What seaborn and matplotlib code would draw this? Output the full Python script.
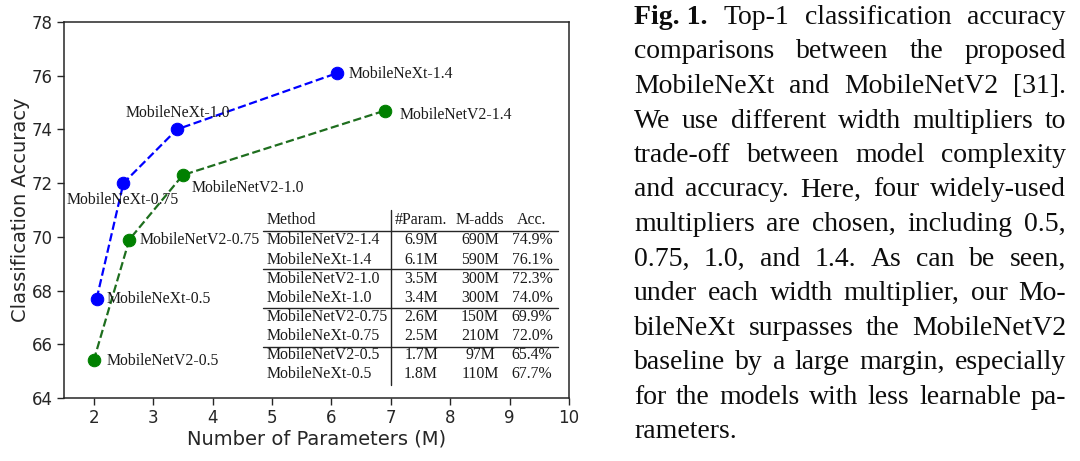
import matplotlib
matplotlib.use("Agg")
import matplotlib.pyplot as plt
import seaborn as sns
import pandas as pd
from matplotlib.lines import Line2D

# ---------------- data ----------------
next_params = [2.05, 2.5, 3.4, 6.1]
next_acc = [67.7, 72.0, 74.0, 76.1]
next_labels = ["MobileNeXt-0.5", "MobileNeXt-0.75", "MobileNeXt-1.0", "MobileNeXt-1.4"]

v2_params = [2.0, 2.6, 3.5, 6.9]
v2_acc = [65.4, 69.9, 72.3, 74.7]
v2_labels = ["MobileNetV2-0.5", "MobileNetV2-0.75", "MobileNetV2-1.0", "MobileNetV2-1.4"]

x_ticks = [2, 3, 4, 5, 6, 7, 8, 9, 10]
y_ticks = [64, 66, 68, 70, 72, 74, 76, 78]

table_header = ["Method", "#Param.", "M-adds", "Acc."]
table_methods = ["MobileNetV2-1.4", "MobileNeXt-1.4", "MobileNetV2-1.0", "MobileNeXt-1.0",
                 "MobileNetV2-0.75", "MobileNeXt-0.75", "MobileNetV2-0.5", "MobileNeXt-0.5"]
table_params = ["6.9M", "6.1M", "3.5M", "3.4M", "2.6M", "2.5M", "1.7M", "1.8M"]
table_madds = ["690M", "590M", "300M", "300M", "150M", "210M", "97M", "110M"]
table_acc = ["74.9%", "76.1%", "72.3%", "74.0%", "69.9%", "72.0%", "65.4%", "67.7%"]

caption_bold = "Fig. 1."
caption_lines = [
    "Top-1 classification accuracy",
    "comparisons between the proposed",
    "MobileNeXt and MobileNetV2 [31].",
    "We use different width multipliers to",
    "trade-off between model complexity",
    "and accuracy. Here, four widely-used",
    "multipliers are chosen, including 0.5,",
    "0.75, 1.0, and 1.4. As can be seen,",
    "under each width multiplier, our Mo-",
    "bileNeXt surpasses the MobileNetV2",
    "baseline by a large margin, especially",
    "for the models with less learnable pa-",
    "rameters.",
]

# ---------------- style ----------------
sns.set_style("ticks")
plt.rcParams["font.family"] = ["DejaVu Sans"]
SERIF = ["Liberation Serif", "DejaVu Serif"]

W, H = 1080, 461
fig = plt.figure(figsize=(W / 100, H / 100), dpi=100)
ax = fig.add_axes([64 / W, 1 - 398 / H, (569 - 64) / W, (398 - 22) / H])

df_next = pd.DataFrame({"params": next_params, "acc": next_acc})
df_v2 = pd.DataFrame({"params": v2_params, "acc": v2_acc})

sns.lineplot(data=df_next, x="params", y="acc", ax=ax, color="blue", linestyle="--",
             linewidth=1.6, marker="o", markersize=9, markeredgecolor="blue", sort=False)
sns.lineplot(data=df_v2, x="params", y="acc", ax=ax, color="#1e6e1e", linestyle="--",
             linewidth=1.6, marker="o", markersize=9, markeredgecolor="green",
             markerfacecolor="green", sort=False)

ax.set_xlim(1.5, 10)
ax.set_ylim(64, 78)
ax.set_xticks(x_ticks)
ax.set_yticks(y_ticks)
ax.tick_params(labelsize=12, length=5, width=1, colors="0.15", pad=3)
ax.set_xlabel("Number of Parameters (M)", fontsize=14, labelpad=2)
ax.set_ylabel("Classification Accuracy", fontsize=14, labelpad=1)
for s in ax.spines.values():
    s.set_linewidth(1.1)
    s.set_color("0.15")

# point labels (offsets in pixels)
next_offsets = [(10, 0, "left"), (-1, -17, "center"), (1, 16, "center"), (11, -1, "left")]
v2_offsets = [(13, -1, "left"), (10, 0, "left"), (9, -13, "left"), (15, -4, "left")]
for xs, ys, labs, offs in [(next_params, next_acc, next_labels, next_offsets),
                           (v2_params, v2_acc, v2_labels, v2_offsets)]:
    for x, y, lab, (dx, dy, ha) in zip(xs, ys, labs, offs):
        ax.annotate(lab, (x, y), xytext=(dx, dy), textcoords="offset pixels",
                    ha=ha, va="center", fontsize=11.3, family=SERIF, color="0.1")

# ---------------- table ----------------
def fx(x):
    return x / W

def fy(y):
    return 1 - y / H

tfs = 11.4
col_x = [267, 421, 480, 532]
header_y = 220
row_y = [240, 260, 279, 298, 317, 336, 355, 374]
fig.text(fx(col_x[0]), fy(header_y), table_header[0], ha="left", va="center",
         fontsize=tfs, family=SERIF, color="0.1")
for cx, h in zip(col_x[1:], table_header[1:]):
    fig.text(fx(cx), fy(header_y), h, ha="center", va="center", fontsize=tfs,
             family=SERIF, color="0.1")
for i, yv in enumerate(row_y):
    fig.text(fx(col_x[0]), fy(yv), table_methods[i], ha="left", va="center",
             fontsize=tfs, family=SERIF, color="0.1")
    for cx, vals in zip(col_x[1:], [table_params, table_madds, table_acc]):
        fig.text(fx(cx), fy(yv), vals[i], ha="center", va="center", fontsize=tfs,
                 family=SERIF, color="0.1")

for ly in [231, 269, 308, 347]:
    fig.add_artist(Line2D([fx(263), fx(558)], [fy(ly), fy(ly)], color="0.15", lw=1.0))
fig.add_artist(Line2D([fx(391), fx(391)], [fy(210), fy(385)], color="0.15", lw=1.0))

# ---------------- caption (justified) ----------------
renderer = fig.canvas.get_renderer()
cap_left, cap_right = 634, 1066
cap_fs = 20
base0, step = 24, 34.5
for i, line in enumerate(caption_lines):
    yb = fy(base0 + step * i)
    tokens = [(w, "normal") for w in line.split(" ")]
    if i == 0:
        tokens = [(caption_bold, "bold")] + tokens
    if i == len(caption_lines) - 1:
        fig.text(fx(cap_left), yb, line, ha="left", va="baseline", fontsize=cap_fs,
                 family=SERIF, color="0.05")
        continue
    texts = []
    widths = []
    for w, wt in tokens:
        t = fig.text(0, yb, w, ha="left", va="baseline", fontsize=cap_fs,
                     family=SERIF, weight=wt, color="0.05")
        texts.append(t)
        widths.append(t.get_window_extent(renderer).width)
    gap = (cap_right - cap_left - sum(widths)) / max(len(texts) - 1, 1)
    xcur = cap_left
    for t, wd in zip(texts, widths):
        t.set_x(fx(xcur))
        xcur += wd + gap

fig.savefig("out.png", dpi=100)
